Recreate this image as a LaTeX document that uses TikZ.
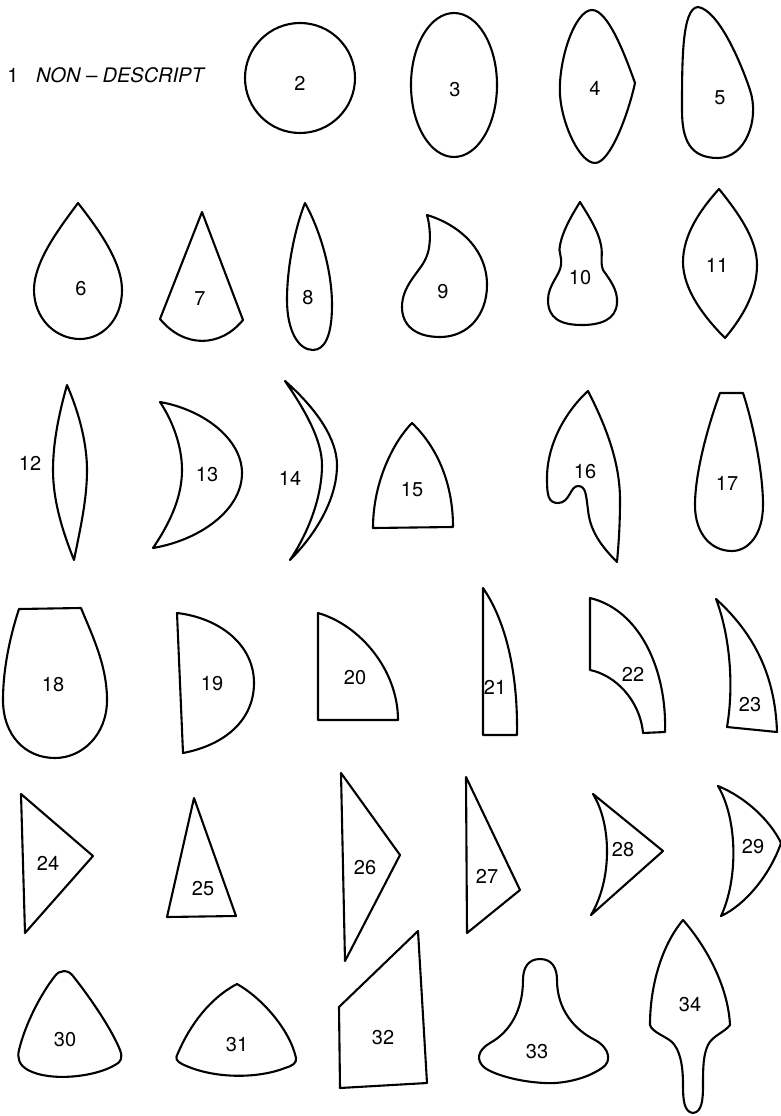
\documentclass[tikz,border=0pt]{standalone}
\usepackage{fontspec}
\setsansfont{TeX Gyre Heros}
\usepackage{tikz}

\begin{document}
\begin{tikzpicture}[
    x=1pt, y=-1pt,
    outline/.style={line width=2.1pt,line join=round},
    num/.style={font=\sffamily\fontsize{20}{22}\selectfont,inner sep=0pt}
]
\useasboundingbox (0,0) rectangle (781,1116);
\fill[white] (0,0) rectangle (781,1116);

% row 1
\node[num] (l1) at (13,75) {1};
\node[num,anchor=west,font=\sffamily\itshape\fontsize{20}{22}\selectfont] (title) at (36,75) {NON -- DESCRIPT};
\draw[outline] (300,78) circle[radius=55];
\node[num] (l2) at (300,83) {2};
\draw[outline] (454,85) ellipse[x radius=43,y radius=72];
\node[num] (l3) at (455,90) {3};
\draw[outline] (592,10) .. controls (608,10) and (625,55) .. (635,83)
  .. controls (628,115) and (610,163) .. (595,163)
  .. controls (580,163) and (562,125) .. (560,95)
  .. controls (558,60) and (575,10) .. (592,10) -- cycle;
\node[num] (l4) at (595,88) {4};
\draw[outline] (698,7) .. controls (718,10) and (740,60) .. (750,90)
  .. controls (760,120) and (745,158) .. (718,158)
  .. controls (690,158) and (682,140) .. (682,110)
  .. controls (682,60) and (682,8) .. (698,7) -- cycle;
\node[num] (l5) at (720,98) {5};

% row 2
\draw[outline] (78,203) .. controls (95,225) and (122,260) .. (122,290)
  .. controls (122,320) and (102,339) .. (80,339)
  .. controls (55,339) and (34,318) .. (34,290)
  .. controls (34,260) and (62,225) .. (78,203) -- cycle;
\node[num] (l6) at (81,289) {6};
\draw[outline] (202,212) -- (243,320) .. controls (220,348) and (184,348) .. (160,319) -- cycle;
\node[num] (l7) at (200,299) {7};
\draw[outline] (305,203) .. controls (320,230) and (332,270) .. (332,305)
  .. controls (332,335) and (325,350) .. (313,350)
  .. controls (298,350) and (287,330) .. (287,300)
  .. controls (287,260) and (298,220) .. (305,203) -- cycle;
\node[num] (l8) at (308,298) {8};
\draw[outline] (427,215) .. controls (460,225) and (487,250) .. (487,285)
  .. controls (487,315) and (468,337) .. (440,337)
  .. controls (415,337) and (402,325) .. (402,307)
  .. controls (402,285) and (420,272) .. (426,258)
  .. controls (432,245) and (430,225) .. (427,215) -- cycle;
\node[num] (l9) at (443,292) {9};
\draw[outline] (580,202) .. controls (588,215) and (598,230) .. (601,245)
  .. controls (603,255) and (600,262) .. (603,270)
  .. controls (610,280) and (618,290) .. (617,303)
  .. controls (616,320) and (600,325) .. (582,325)
  .. controls (560,325) and (548,318) .. (548,300)
  .. controls (548,285) and (560,275) .. (561,265)
  .. controls (562,255) and (558,252) .. (560,245)
  .. controls (563,230) and (572,215) .. (580,202) -- cycle;
\node[num] (l10) at (580,278) {10};
\draw[outline] (719,189) .. controls (740,215) and (757,240) .. (757,265)
  .. controls (757,295) and (740,320) .. (725,338)
  .. controls (705,318) and (683,290) .. (683,262)
  .. controls (683,235) and (700,210) .. (719,189) -- cycle;
\node[num] (l11) at (717,265) {11};

% row 3
\node[num] (l12) at (30,463) {12};
\draw[outline] (67,385) .. controls (80,415) and (87,445) .. (87,470)
  .. controls (87,500) and (80,530) .. (74,560)
  .. controls (62,530) and (53,500) .. (53,470)
  .. controls (53,440) and (60,410) .. (67,385) -- cycle;
\draw[outline] (160,402) .. controls (205,410) and (242,440) .. (242,473)
  .. controls (242,510) and (200,540) .. (153,548)
  .. controls (172,520) and (182,495) .. (182,470)
  .. controls (182,445) and (172,420) .. (160,402) -- cycle;
\node[num] (l13) at (207,475) {13};
\draw[outline] (285,381) .. controls (318,410) and (337,440) .. (337,465)
  .. controls (337,500) and (315,535) .. (290,560)
  .. controls (310,530) and (322,495) .. (322,465)
  .. controls (322,440) and (305,410) .. (285,381) -- cycle;
\node[num] (l14) at (290,478) {14};
\draw[outline] (373,528) .. controls (373,480) and (395,440) .. (412,423)
  .. controls (435,445) and (453,480) .. (453,527) -- cycle;
\node[num] (l15) at (412,490) {15};
\draw[outline] (588,391) .. controls (608,430) and (620,465) .. (620,500)
  .. controls (620,530) and (618,550) .. (617,562)
  .. controls (600,545) and (590,530) .. (588,510)
  .. controls (586,495) and (586,486) .. (578,486)
  .. controls (570,486) and (570,503) .. (558,503)
  .. controls (548,503) and (547,495) .. (547,478)
  .. controls (547,445) and (565,412) .. (588,391) -- cycle;
\node[num] (l16) at (585,472) {16};
\draw[outline] (720,393) -- (743,393) .. controls (752,420) and (763,470) .. (763,505)
  .. controls (763,535) and (748,551) .. (732,551)
  .. controls (712,551) and (695,535) .. (695,505)
  .. controls (695,470) and (710,420) .. (720,393) -- cycle;
\node[num] (l17) at (727,483) {17};

% row 4
\draw[outline] (19,609) -- (81,608) .. controls (92,635) and (107,665) .. (107,700)
  .. controls (107,735) and (82,758) .. (55,758)
  .. controls (25,758) and (3,735) .. (3,700)
  .. controls (3,665) and (12,630) .. (19,609) -- cycle;
\node[num] (l18) at (53,685) {18};
\draw[outline] (177,613) -- (183,753) .. controls (225,745) and (254,720) .. (254,683)
  .. controls (254,645) and (220,618) .. (177,613) -- cycle;
\node[num] (l19) at (212,684) {19};
\draw[outline] (318,720) -- (318,613) .. controls (360,625) and (398,670) .. (398,720) -- cycle;
\node[num] (l20) at (355,678) {20};
\draw[outline] (483,588) -- (483,735) -- (517,735) .. controls (518,670) and (505,620) .. (483,588) -- cycle;
\node[num] (l21) at (495,687) {21};
\draw[outline] (590,598) -- (590,670) .. controls (615,675) and (640,700) .. (643,733)
  -- (665,732) .. controls (667,670) and (640,610) .. (590,598) -- cycle;
\node[num] (l22) at (633,674) {22};
\draw[outline] (716,599) .. controls (728,630) and (735,680) .. (727,727)
  -- (777,732) .. controls (775,670) and (750,630) .. (716,599) -- cycle;
\node[num] (l23) at (750,705) {23};

% row 5
\draw[outline] (21,794) -- (93,856) -- (25,933) -- cycle;
\node[num] (l24) at (48,863) {24};
\draw[outline] (194,798) -- (236,916) -- (167,917) -- cycle;
\node[num] (l25) at (203,889) {25};
\draw[outline] (341,773) -- (400,855) -- (345,961) -- cycle;
\node[num] (l26) at (365,868) {26};
\draw[outline] (466,777) -- (520,890) -- (467,933) -- cycle;
\node[num] (l27) at (487,876) {27};
\draw[outline] (593,794) -- (663,851) -- (591,915) .. controls (612,880) and (612,825) .. (593,794) -- cycle;
\node[num] (l28) at (623,850) {28};
\draw[outline] (718,786) .. controls (745,797) and (770,820) .. (781,843)
  .. controls (770,875) and (745,905) .. (721,916)
  .. controls (738,880) and (738,820) .. (718,786) -- cycle;
\node[num] (l29) at (753,847) {29};

% row 6
\draw[outline] (55,976) .. controls (59,970) and (68,969) .. (73,976)
  .. controls (92,1000) and (112,1030) .. (120,1050)
  .. controls (123,1058) and (121,1062) .. (115,1065)
  .. controls (95,1077) and (50,1082) .. (28,1070)
  .. controls (19,1065) and (17,1058) .. (19,1050)
  .. controls (25,1025) and (40,995) .. (55,976) -- cycle;
\node[num] (l30) at (65,1040) {30};
\draw[outline] (237,984) .. controls (262,998) and (290,1030) .. (296,1058)
  .. controls (297,1063) and (292,1066) .. (285,1068)
  .. controls (260,1078) and (215,1080) .. (182,1064)
  .. controls (176,1061) and (175,1058) .. (178,1053)
  .. controls (190,1025) and (210,998) .. (237,984) -- cycle;
\node[num] (l31) at (237,1045) {31};
\draw[outline] (339,1007) -- (418,931) -- (427,1083) -- (340,1088) -- cycle;
\node[num] (l32) at (383,1038) {32};
\draw[outline] (540,959) .. controls (552,959) and (557,968) .. (557,980)
  .. controls (557,1010) and (575,1030) .. (595,1040)
  .. controls (610,1048) and (612,1062) .. (602,1068)
  .. controls (585,1080) and (560,1084) .. (545,1083)
  .. controls (520,1082) and (495,1075) .. (485,1068)
  .. controls (475,1060) and (478,1050) .. (490,1043)
  .. controls (510,1032) and (523,1010) .. (523,980)
  .. controls (523,968) and (528,959) .. (540,959) -- cycle;
\node[num] (l33) at (537,1052) {33};
\draw[outline] (683,920) .. controls (705,945) and (728,985) .. (730,1025)
  .. controls (725,1032) and (712,1036) .. (708,1045)
  .. controls (703,1055) and (703,1070) .. (703,1085)
  .. controls (703,1100) and (702,1112) .. (693,1113)
  .. controls (684,1112) and (683,1100) .. (683,1085)
  .. controls (683,1065) and (680,1050) .. (672,1042)
  .. controls (665,1036) and (652,1032) .. (650,1025)
  .. controls (650,985) and (662,945) .. (683,920) -- cycle;
\node[num] (l34) at (690,1005) {34};
\end{tikzpicture}
\end{document}
